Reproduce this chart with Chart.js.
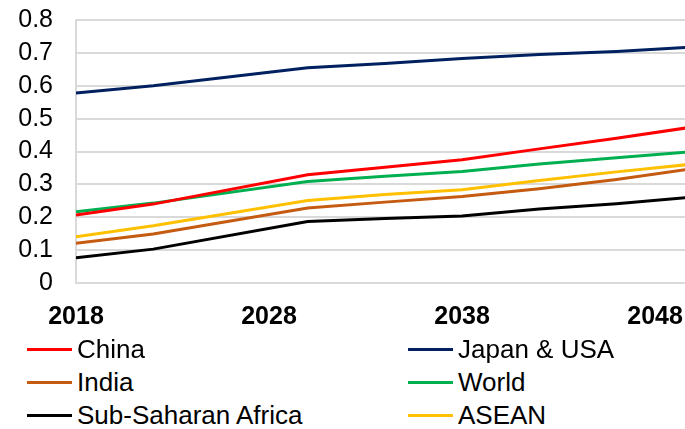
<!DOCTYPE html>
<html>
<head>
<meta charset="utf-8">
<script src="https://cdn.jsdelivr.net/npm/chart.js@4"></script>
<style>
  html, body { margin: 0; padding: 0; background: #fff; }
  #wrap { position: relative; width: 685px; height: 429px; overflow: hidden; font-family: 'Liberation Sans', Arial, sans-serif; }
  #box { position: absolute; left: 0; top: 0; width: 685px; height: 340px; }
  #legend { position: absolute; left: 0; top: 333px; width: 685px; }
  .item { position: absolute; height: 33px; display: flex; align-items: center; font-size: 26px; color: #000; white-space: nowrap; }
  .item span.ln { display: inline-block; width: 45px; height: 3px; margin-right: 5px; }
</style>
</head>
<body>
<div id="wrap">
  <div id="box"><canvas id="chart"></canvas></div>
  <div id="legend"></div>
</div>
<script>
'use strict';

// data
const years = [2018, 2022, 2030, 2034, 2038, 2042, 2046, 2050];
const china = [0.207, 0.240, 0.329, 0.352, 0.375, 0.408, 0.440, 0.475];
const japanUsa = [0.578, 0.600, 0.655, 0.668, 0.683, 0.695, 0.704, 0.718];
const india = [0.121, 0.149, 0.228, 0.246, 0.263, 0.287, 0.315, 0.348];
const world = [0.217, 0.243, 0.309, 0.325, 0.339, 0.362, 0.381, 0.400];
const ssa = [0.077, 0.103, 0.187, 0.196, 0.204, 0.225, 0.241, 0.262];
const asean = [0.141, 0.174, 0.251, 0.269, 0.284, 0.312, 0.338, 0.362];

const xTicks = [2018, 2028, 2038, 2048];
const yTicks = [0, 0.1, 0.2, 0.3, 0.4, 0.5, 0.6, 0.7, 0.8];

const names = ['China', 'Japan & USA', 'India', 'World', 'Sub-Saharan Africa', 'ASEAN'];
const colors = ['#FF0000', '#002060', '#C55A11', '#00B050', '#000000', '#FFC000'];
const values = [china, japanUsa, india, world, ssa, asean];

const font = "'Liberation Sans', Arial, sans-serif";

let datasets = values.map(function(v, i){
  return {
    label: names[i],
    data: v.map(function(y, j){ return {x: years[j], y: y}; }),
    borderColor: colors[i],
    backgroundColor: colors[i],
    borderWidth: 3,
    pointRadius: 0,
    tension: 0,
    fill: false
  };
});

new Chart(document.getElementById('chart').getContext('2d'), {
  type: 'line',
  data: { datasets: datasets },
  options: {
    responsive: true,
    maintainAspectRatio: false,
    animation: false,
    layout: { padding: { top: 20, left: 0, right: 0, bottom: 0 } },
    plugins: {
      legend: { display: false },
      tooltip: { enabled: false }
    },
    scales: {
      x: {
        type: 'linear',
        min: 2018,
        max: 2049.55,
        afterBuildTicks: function(s){ s.ticks = xTicks.map(function(v){ return {value: v}; }); },
        afterFit: function(s){ s.height = 57; s.paddingLeft = 0; s.paddingRight = 0; },
        grid: { display: false, drawTicks: false },
        border: { display: false },
        ticks: {
          padding: 19,
          maxRotation: 0,
          autoSkip: false,
          color: '#000',
          font: { family: font, size: 25, weight: 'bold' },
          callback: function(v){ return String(v); }
        }
      },
      y: {
        min: 0,
        max: 0.8,
        afterBuildTicks: function(s){ s.ticks = yTicks.map(function(v){ return {value: v}; }); },
        afterFit: function(s){ s.width = 76; s.paddingTop = 0; s.paddingBottom = 0; },
        grid: { color: '#D9D9D9', lineWidth: 2, drawTicks: false },
        border: { display: true, color: '#D9D9D9', width: 2 },
        ticks: {
          padding: 23,
          autoSkip: false,
          color: '#000',
          font: { family: font, size: 25 },
          callback: function(v){ return String(Math.round(v * 10) / 10); }
        }
      }
    }
  }
});

// legend, two columns
let legend = document.getElementById('legend');
names.forEach(function(n, i){
  let el = document.createElement('div');
  el.className = 'item';
  el.style.left = (i % 2 === 0 ? 27 : 408) + 'px';
  el.style.top = (Math.floor(i / 2) * 33) + 'px';
  el.innerHTML = '<span class="ln" style="background:' + colors[i] + '"></span>';
  el.appendChild(document.createTextNode(n));
  legend.appendChild(el);
});
</script>
</body>
</html>
